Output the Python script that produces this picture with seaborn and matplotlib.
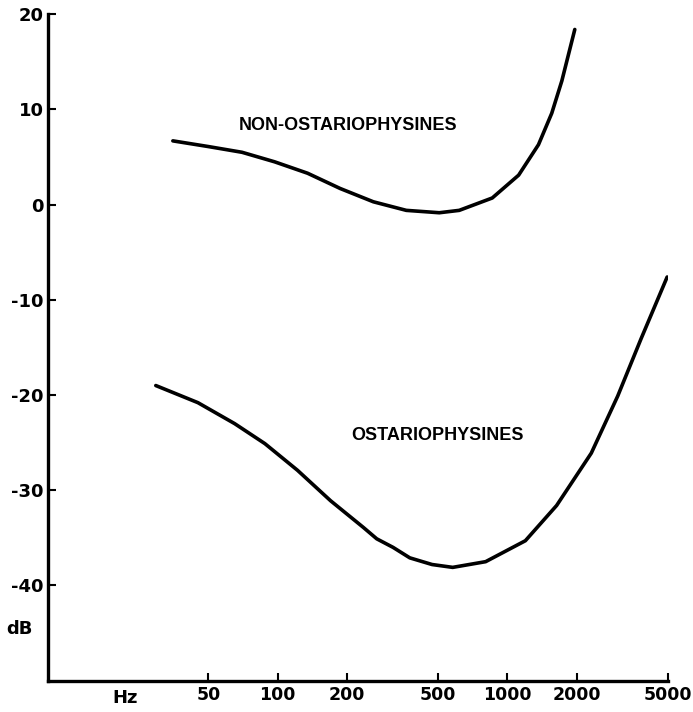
import numpy as np
import pandas as pd
import seaborn as sns
import matplotlib.pyplot as plt
from matplotlib.transforms import blended_transform_factory

# threshold curves (Hz, dB)
non_ostario_hz = [35, 50, 70, 97, 135, 187, 261, 363, 443, 505, 617, 859, 1119, 1365, 1559, 1725, 1964]
non_ostario_db = [6.7, 6.1, 5.5, 4.5, 3.3, 1.7, 0.3, -0.6, -0.75, -0.85, -0.6, 0.7, 3.1, 6.3, 9.6, 13.0, 18.4]

ostario_hz = [29.5, 45, 65, 88, 122, 170, 236, 270, 318, 376, 470, 578, 804, 1197, 1637, 2317, 3020, 3813, 4955]
ostario_db = [-19.0, -20.8, -23.0, -25.1, -27.9, -31.1, -33.9, -35.1, -36.0, -37.1, -37.8, -38.1, -37.5, -35.3, -31.6, -26.1, -20.1, -14.1, -7.6]

x_ticks = [50, 100, 200, 500, 1000, 2000, 5000]
y_ticks = [20, 10, 0, -10, -20, -30, -40]

df = pd.concat([
    pd.DataFrame({"Hz": non_ostario_hz, "dB": non_ostario_db, "group": "NON-OSTARIOPHYSINES"}),
    pd.DataFrame({"Hz": ostario_hz, "dB": ostario_db, "group": "OSTARIOPHYSINES"}),
])

sns.set_style("ticks", {"axes.edgecolor": "black", "text.color": "black",
                        "xtick.color": "black", "ytick.color": "black"})
plt.rcParams['font.family'] = ['DejaVu Sans']
plt.rcParams['font.weight'] = 'bold'
plt.rcParams['axes.unicode_minus'] = False

fig = plt.figure(figsize=(6.93, 7.12), dpi=100)
ax = fig.add_axes([0.069, 0.044, 0.895, 0.936])

sns.lineplot(data=df, x="Hz", y="dB", units="group", estimator=None,
             color="black", linewidth=2.6, sort=False, ax=ax, legend=False)
for ln in ax.lines:
    ln.set_solid_joinstyle("round")
    ln.set_solid_capstyle("round")

ax.set_xscale("log")
ax.set_xlim(10, 5000)
ax.set_ylim(-50, 20)
ax.set_xticks(x_ticks)
ax.set_xticklabels([str(t) for t in x_ticks], fontsize=12.5, fontweight='bold')
ax.minorticks_off()
ax.set_yticks(y_ticks)
ax.set_yticklabels([str(t) for t in y_ticks], fontsize=13, fontweight='bold')
ax.tick_params(direction='in', length=6, width=1.5, pad=3)
ax.tick_params(axis='x', pad=4)
ax.set_xlabel("")
ax.set_ylabel("")
sns.despine(ax=ax)
for s in ["left", "bottom"]:
    ax.spines[s].set_linewidth(2.4)
# last label sits a little left of its tick, as in the scan
ax.get_xticklabels()[-1].set_horizontalalignment("center")
ax.get_xticklabels()[-1].set_x(4700)

lab_font = ['Liberation Sans', 'DejaVu Sans']
ax.text(202, 8.3, "NON-OSTARIOPHYSINES", fontsize=13, fontweight='bold', family=lab_font,
        ha='center', va='center')
ax.text(494, -24.2, "OSTARIOPHYSINES", fontsize=13, fontweight='bold', family=lab_font,
        ha='center', va='center')

trans_y = blended_transform_factory(ax.transAxes, ax.transData)
ax.text(-0.045, -44.6, "dB", fontsize=13, fontweight='bold', ha='center', va='center', transform=trans_y)
trans_x = blended_transform_factory(ax.transData, ax.transAxes)
ax.text(21.7, -0.012, "Hz", fontsize=13, fontweight='bold', ha='center', va='top', transform=trans_x)

fig.savefig("out.png", dpi=100)
